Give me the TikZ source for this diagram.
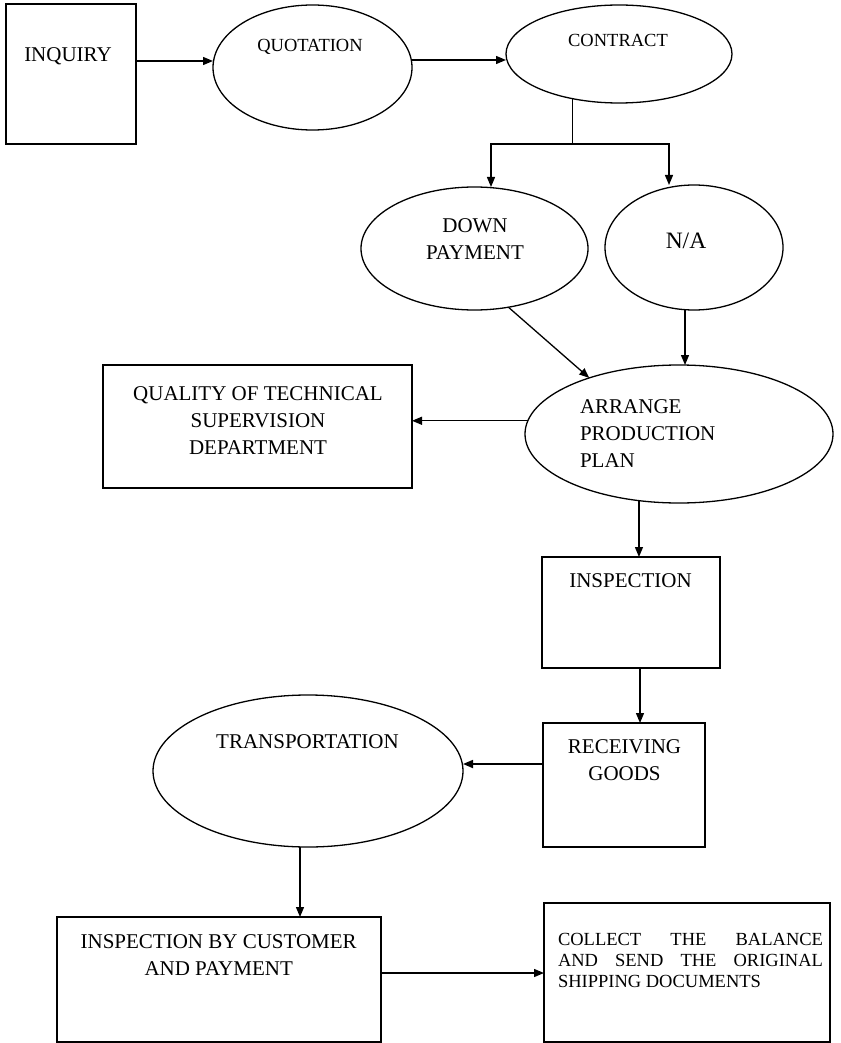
\documentclass[tikz,border=0pt]{standalone}
\usepackage{fontspec}
\setmainfont{Liberation Serif}
\usetikzlibrary{shapes.geometric,arrows.meta}
\begin{document}
\begin{tikzpicture}[x=1pt,y=-1pt,
  shp/.style={draw,line width=1.3pt,inner sep=0pt,outer sep=0pt},
  boxsh/.style={shp,rectangle},
  ovalsh/.style={shp,ellipse},
  arr/.style={line width=1.3pt,-{Triangle[length=10pt,width=8pt]}},
  plainln/.style={line width=1.3pt},
  lbl/.style={inner sep=0pt,outer sep=0pt,anchor=base,font=\fontsize{21}{27}\selectfont},
  smlbl/.style={lbl,font=\fontsize{18.5}{21}\selectfont}]
\useasboundingbox (0,0) rectangle (840,1043);
% shapes
\node[boxsh,minimum width=130pt,minimum height=140pt] (inquiry) at (71,74) {};
\node[ovalsh,minimum width=199pt,minimum height=125pt] (quotation) at (312.5,67.5) {};
\node[ovalsh,minimum width=226pt,minimum height=98pt] (contract) at (619,54) {};
\node[ovalsh,minimum width=227pt,minimum height=123pt] (downpay) at (474.5,248.5) {};
\node[ovalsh,minimum width=178pt,minimum height=125pt] (na) at (694,247.5) {};
\node[ovalsh,minimum width=308pt,minimum height=138pt] (arrange) at (679,434) {};
\node[boxsh,minimum width=309pt,minimum height=123pt] (quality) at (257.5,426.5) {};
\node[boxsh,minimum width=178pt,minimum height=111pt] (inspection) at (631,612.5) {};
\node[boxsh,minimum width=162pt,minimum height=124pt] (receiving) at (624,785) {};
\node[ovalsh,minimum width=310pt,minimum height=152pt] (transport) at (308,771) {};
\node[boxsh,minimum width=324pt,minimum height=125pt] (custpay) at (219,979.5) {};
\node[boxsh,minimum width=286pt,minimum height=139pt] (collect) at (687,972.5) {};
% texts (multi-line nodes: base = last line's baseline)
\node[lbl] (t-inquiry) at (68,62) {INQUIRY};
\node[smlbl] (t-quotation) at (310,52) {QUOTATION};
\node[smlbl] (t-contract) at (618,46.5) {CONTRACT};
\node[lbl,align=center] (t-downpay) at (475,259) {DOWN\\PAYMENT};
\node[lbl,font=\fontsize{23.5}{28}\selectfont] (t-na) at (686,248) {N/A};
\node[lbl,anchor=base west,align=left] (t-arrange) at (580,467) {ARRANGE\\PRODUCTION\\PLAN};
\node[lbl,align=center] (t-quality) at (258,454) {QUALITY OF TECHNICAL\\SUPERVISION\\DEPARTMENT};
\node[lbl] (t-inspection) at (630.5,587) {INSPECTION};
\node[lbl,align=center] (t-receiving) at (624.5,780) {RECEIVING\\GOODS};
\node[lbl] (t-transport) at (307.5,748) {TRANSPORTATION};
\node[lbl,align=center] (t-custpay) at (218.7,975) {INSPECTION BY CUSTOMER\\AND PAYMENT};
\node[smlbl,anchor=base west,align=left] (t-collect) at (558,987) {\hbox to 265pt{COLLECT\hfill THE\hfill BALANCE}\\\hbox to 265pt{AND\hfill SEND\hfill THE\hfill ORIGINAL}\\SHIPPING DOCUMENTS};
% connectors
\draw[arr] ([yshift=13pt]inquiry.east) -- ([yshift=6.5pt]quotation.west);
\draw[arr] ([yshift=7.5pt]quotation.east) -- ([yshift=-6pt]contract.west);
\coordinate (jn) at (contract.224 |- 0,144);
\draw[plainln] (contract.224) -- (jn);
\draw[arr] (jn) -| ([xshift=16.5pt]downpay.north);
\draw[arr] (jn) -| ([xshift=-25pt]na.north);
\draw[arr] (downpay.300) -- (arrange.148);
\draw[arr] ([xshift=-9pt]na.south) -- ([xshift=-9pt]na.south |- arrange.north);
\draw[arr] (arrange.175) -- (quality.east |- arrange.175);
\draw[arr] (arrange.239) -- (arrange.239 |- inspection.north);
\draw[arr] ([xshift=9pt]inspection.south) -- ([xshift=9pt]inspection.south |- receiving.north);
\draw[arr,line width=1.7pt] ([yshift=21pt]receiving.west) -- ([yshift=21pt]receiving.west -| transport.east);
\draw[arr] ([xshift=-8pt]transport.south) -- ([xshift=-8pt]transport.south |- custpay.north);
\draw[arr] ([yshift=6.5pt]custpay.east) -- ([yshift=6.5pt]custpay.east -| collect.west);
\end{tikzpicture}
\end{document}
